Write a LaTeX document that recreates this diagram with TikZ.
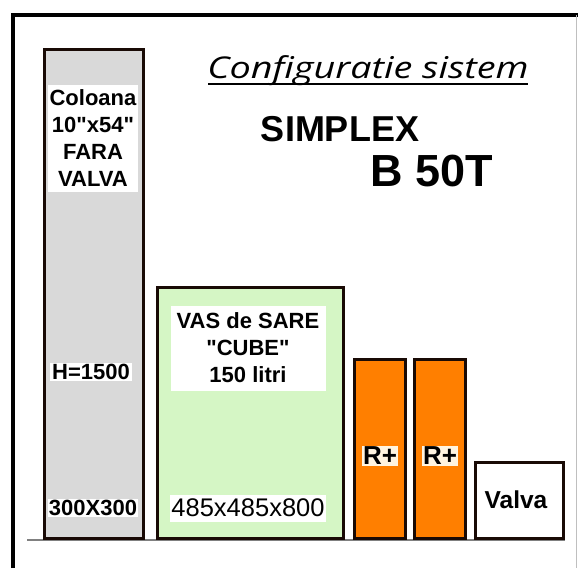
\documentclass[tikz,border=0pt]{standalone}
\usepackage{fontspec}
\setsansfont{Liberation Sans}[Ligatures=TeXOff]
\newfontfamily\titlefont{Open Sans}
\usepackage{xcolor}
\usetikzlibrary{positioning}
\definecolor{colgray}{RGB}{217,217,217}
\definecolor{saltgreen}{RGB}{213,246,197}
\definecolor{resinorange}{RGB}{255,127,0}
\definecolor{tagcream}{RGB}{255,244,224}
\definecolor{tankedge}{RGB}{25,10,5}
\begin{document}
\begin{tikzpicture}[x=1pt,y=-1pt,
tank/.style={draw=tankedge,line width=3pt,anchor=south west,inner sep=0pt},
tag/.style={fill=white,align=center,inner sep=1pt,font=\sffamily\bfseries\fontsize{22}{27}\selectfont},
plain/.style={fill=white,inner sep=1pt,font=\sffamily\fontsize{25.5}{27}\selectfont}]
\useasboundingbox(0,0)rectangle(578,568);
\draw[line width=4pt](13,568)--(13,15)--(578,15);
\draw[gray!50](576,15)--(576,568);
\coordinate(g1)at(27,540);
\coordinate(g2)at(565,540);
\draw[gray,line width=1.3pt](g1)--(g2);
\coordinate(ul1)at(208,82.5);
\coordinate(ul2)at(528,85);
\fill[black](ul1)rectangle(ul2);
\node[tank,fill=colgray,minimum width=99,minimum height=489](col)at(43,540){};
\node[tank,fill=saltgreen,minimum width=186,minimum height=251](salt)at(156,540){};
\node[tank,fill=resinorange,minimum width=51,minimum height=179](ra)at(353,540){};
\node[tank,fill=resinorange,minimum width=51,minimum height=179](rb)at(413,540){};
\node[tank,fill=white,minimum width=88,minimum height=76](valve)at(474,540){};
\node[tag,minimum width=90,minimum height=107](coltxt)at(93,138){Coloana\\10"x54"\\FARA\\VALVA};
\node[tag,minimum width=82](colh)at(91,372){H=1500};
\node[tag,minimum width=90](colb)at(93,508){300X300};
\node[tag,minimum width=155,minimum height=85](salttxt)at(248,348){VAS de SARE\\"CUBE"\\150 litri};
\node[plain,minimum width=155,minimum height=27](saltb)at(248,508){485x485x800};
\node[tag,fill=tagcream,font=\sffamily\bfseries\fontsize{26}{28}\selectfont](ratxt)at(380,456){R+};
\node[tag,fill=tagcream,font=\sffamily\bfseries\fontsize{26}{28}\selectfont](rbtxt)at(440,456){R+};
\node[plain,font=\sffamily\bfseries\fontsize{24.5}{26}\selectfont](valvetxt)at(516,500){Valva};
\node[inner xsep=0pt,anchor=base,xscale=1.26,transform shape,font=\titlefont\itshape\fontsize{30}{32}\selectfont](title)at(368,78){Configuratie sistem};
\node[font=\sffamily\bfseries\fontsize{36}{38}\selectfont](simplex)at(340,129){SIMPLEX};
\node[font=\sffamily\bfseries\fontsize{45}{48}\selectfont](model)at(432,171){B 50T};
\end{tikzpicture}
\end{document}
